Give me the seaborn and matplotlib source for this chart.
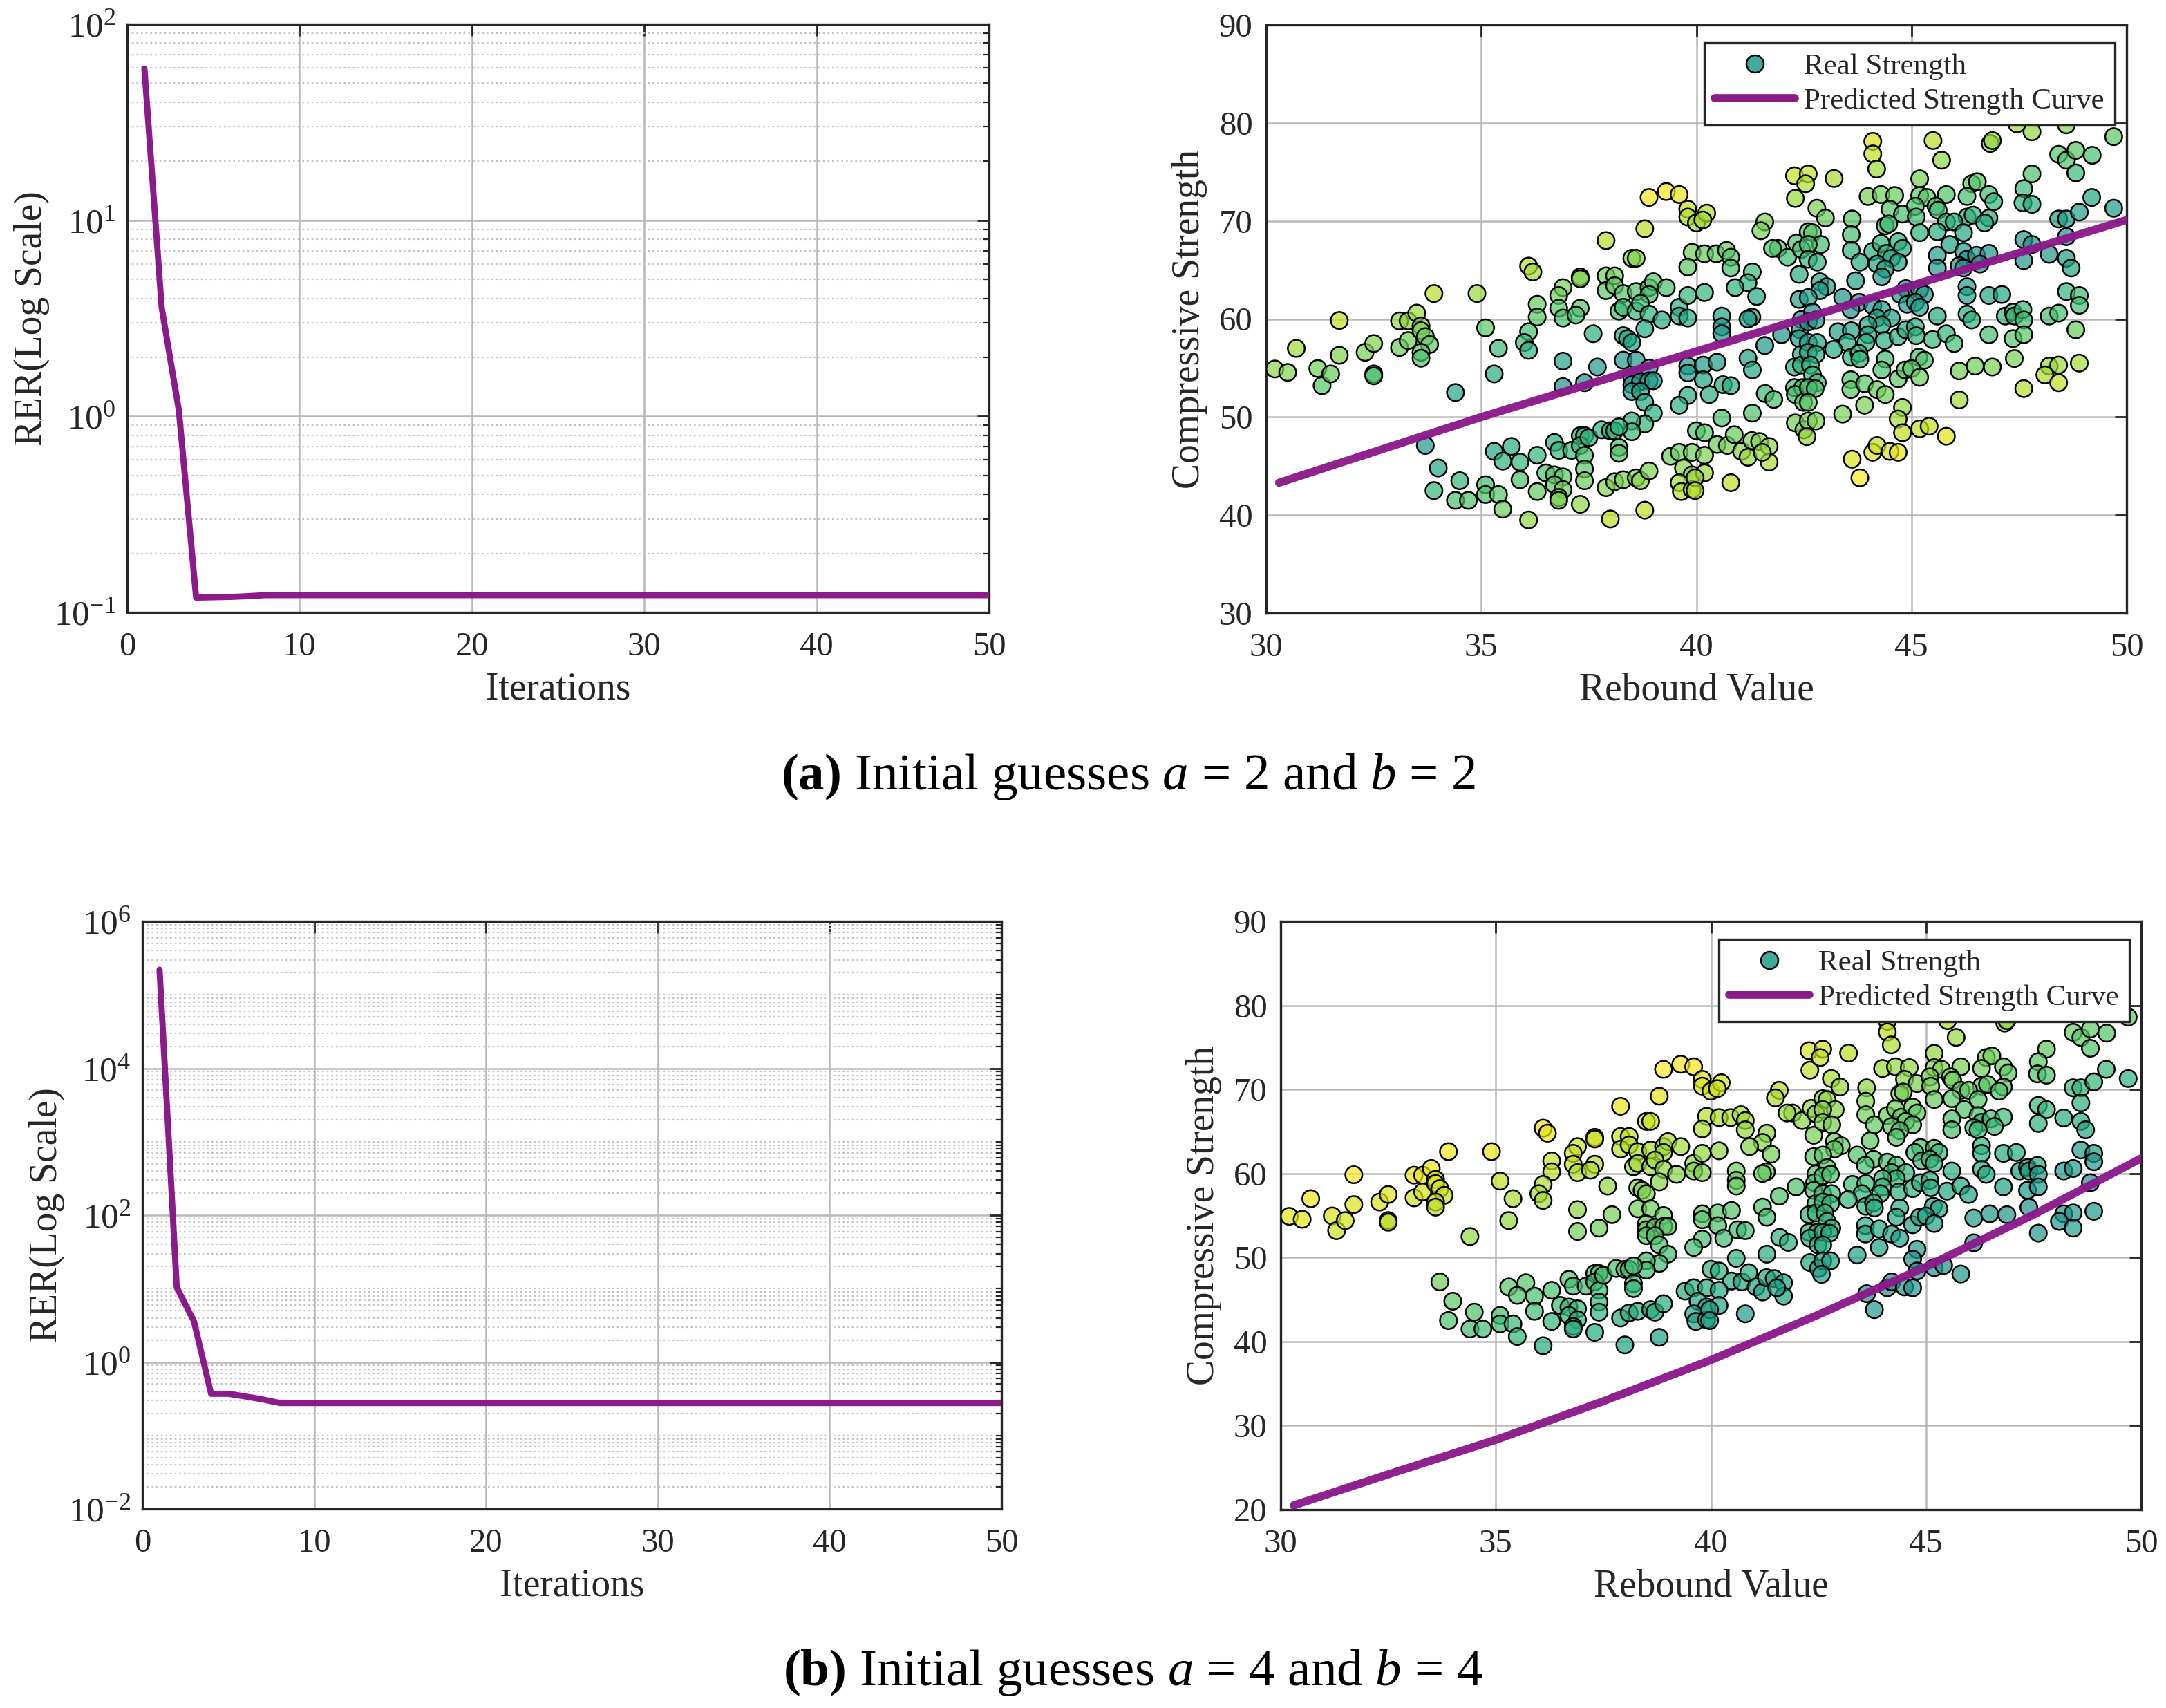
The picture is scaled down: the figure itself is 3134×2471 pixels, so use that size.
import numpy as np
import pandas as pd
import matplotlib
matplotlib.use("Agg")
import matplotlib.pyplot as plt
import seaborn as sns
from matplotlib.lines import Line2D
from matplotlib.colors import ListedColormap
from matplotlib.ticker import FixedLocator, FuncFormatter, NullFormatter, MultipleLocator

# ---------------- data ----------------
iterations = list(range(1, 51))
rer_a = [59.4, 3.6, 1.07, 0.119, 0.1195, 0.120, 0.121, 0.1225, 0.1225, 0.1225,
         0.1225, 0.1225, 0.1225, 0.1225, 0.1225, 0.1225, 0.1225, 0.1225, 0.1225, 0.1225,
         0.1225, 0.1225, 0.1225, 0.1225, 0.1225, 0.1225, 0.1225, 0.1225, 0.1225, 0.1225,
         0.1225, 0.1225, 0.1225, 0.1225, 0.1225, 0.1225, 0.1225, 0.1225, 0.1225, 0.1225,
         0.1225, 0.1225, 0.1225, 0.1225, 0.1225, 0.1225, 0.1225, 0.1225, 0.1225, 0.1225]
rer_b = [2.2e5, 10.4, 3.6, 0.37, 0.37, 0.34, 0.31, 0.277, 0.277, 0.277,
         0.277, 0.277, 0.277, 0.277, 0.277, 0.277, 0.277, 0.277, 0.277, 0.277,
         0.277, 0.277, 0.277, 0.277, 0.277, 0.277, 0.277, 0.277, 0.277, 0.277,
         0.277, 0.277, 0.277, 0.277, 0.277, 0.277, 0.277, 0.277, 0.277, 0.277,
         0.277, 0.277, 0.277, 0.277, 0.277, 0.277, 0.277, 0.277, 0.277, 0.277]

points = [
    # x 30-36
    (30.2,54.9),(30.5,54.55),(30.7,57.0),(31.2,54.95),(31.3,53.2),(31.5,54.4),(31.7,59.85),(31.7,56.3),
    (32.3,56.6),(32.5,57.5),(32.5,54.4),(32.5,54.2),(33.1,59.8),(33.3,59.8),(33.5,60.6),(33.6,59.3),
    (33.1,57.1),(33.3,57.8),(33.6,58.8),(33.7,58.2),(33.8,57.4),(33.6,56.6),(33.6,56.0),(33.9,62.6),
    (34.9,62.6),(35.1,59.1),(35.4,57.0),(35.3,54.4),(34.4,52.5),
    (33.7,47.1),(34.0,44.8),(34.5,43.5),(33.9,42.5),(34.4,41.5),(34.7,41.5),(35.1,43.1),(35.1,42.1),
    (35.4,42.1),(35.5,40.6),(35.3,46.5),(35.7,47.0),(35.5,45.5),(35.9,45.4),(35.9,43.6),(36.1,39.5),
    # x 36-40
    (38.9,72.4),(39.3,73.0),(39.6,72.7),(39.8,71.2),(39.8,70.4),(40.0,69.8),(38.8,69.2),(37.9,68.0),
    (38.5,66.2),(38.6,66.2),(39.9,66.8),(39.8,65.3),(36.1,65.4),(36.2,64.8),(36.9,63.2),(36.8,62.4),
    (37.3,64.3),(37.3,64.1),(37.9,64.4),(38.1,64.4),(37.9,62.9),(38.1,63.4),(38.3,62.6),(38.6,62.8),
    (38.9,63.2),(39.0,63.8),(38.9,62.5),(39.3,63.2),(36.3,61.5),(36.3,60.2),(36.8,61.1),(36.9,60.1),
    (37.3,61.1),(37.2,60.4),(38.2,60.8),(38.3,61.2),(38.6,60.8),(38.7,61.6),(38.9,60.5),(39.2,59.9),
    (38.8,59.0),(39.6,61.2),(39.6,60.3),(39.8,62.4),(39.8,60.1),(36.1,58.7),(36.0,57.6),(36.1,56.8),
    (37.6,58.5),(38.3,58.3),(38.4,58.0),(38.5,57.6),(36.9,55.7),(37.7,55.1),(38.3,55.8),(38.6,55.8),
    (38.9,55.0),(36.9,53.1),(37.4,53.5),(38.5,54.0),(38.5,53.3),(38.7,53.6),(38.9,53.7),(39.0,53.7),
    (38.5,52.6),(38.7,52.6),(38.8,51.5),(39.0,50.4),(38.8,49.3),(38.5,49.6),(38.5,48.5),(39.8,55.2),
    (39.8,54.5),(39.8,52.2),(39.6,51.2),(40.0,48.6),
    (36.3,46.1),(36.7,47.4),(36.8,46.6),(37.1,46.6),(37.3,48.1),(37.4,48.1),(37.3,47.1),(37.4,46.1),
    (37.4,44.7),(37.4,43.5),(37.5,47.9),(37.8,48.7),(38.0,48.6),(38.1,48.6),(38.2,49.0),(38.2,46.9),
    (38.2,46.3),(36.5,44.3),(36.7,44.1),(36.9,43.9),(36.7,43.1),(36.9,42.6),(36.8,41.8),(36.8,41.5),
    (36.3,42.4),(37.3,41.1),(37.9,42.8),(38.1,43.4),(38.3,43.6),(38.6,43.8),(38.7,43.5),(38.9,44.5),
    (38.0,39.6),(38.8,40.5),(39.4,46.0),(39.6,46.4),(39.9,46.4),(39.7,44.8),(39.9,44.1),(39.6,43.3),
    (39.65,42.4),(39.9,42.6),
    # x 40-42.5
    (42.28,74.61),(42.30,72.3),(40.24,70.8),(40.15,70.1),(41.59,69.9),(41.5,69.0),(41.9,67.2),(41.77,67.2),
    (42.12,66.3),(42.33,67.75),(42.44,67.1),(42.39,64.55),(40.19,66.65),(40.46,66.65),(40.7,67.0),(40.8,66.3),
    (40.8,65.2),(41.3,64.8),(41.2,63.7),(40.9,63.2),(41.4,62.3),(40.19,62.7),(40.59,60.3),(40.59,59.2),
    (40.59,58.5),(41.29,60.2),(41.2,60.0),(41.98,58.4),(41.59,57.3),(42.39,62.0),(42.44,59.95),(42.41,58.9),
    (42.39,58.0),(42.44,56.4),(42.28,55.1),(42.44,55.3),(42.28,53.0),(42.47,53.0),(42.3,52.3),(42.49,51.5),
    (42.3,49.4),(42.5,48.7),(40.16,55.3),(40.16,53.8),(40.3,52.3),(40.48,55.6),(40.62,53.3),(40.8,53.2),
    (41.2,56.0),(41.3,54.8),(41.6,52.4),(41.8,51.8),(40.59,49.9),(41.3,50.4),(40.19,48.4),(40.48,47.2),
    (40.72,47.1),(40.88,48.2),(41.05,46.5),(41.2,45.9),(41.29,47.6),(41.47,47.5),(41.69,47.0),(41.69,45.4),
    (41.53,46.4),(40.19,46.1),(40.19,44.3),(39.97,43.8),(39.97,42.5),(40.8,43.3),
    # x 42.5-45
    (44.10,78.12),(44.10,76.84),(44.19,75.3),(42.60,74.8),(42.54,73.8),(43.20,74.33),(42.80,71.3),(43.0,70.3),
    (43.99,72.5),(44.29,72.7),(44.61,72.6),(44.5,71.2),(44.79,70.7),(43.62,70.2),(43.6,68.6),(43.6,67.0),
    (43.8,65.8),(44.39,69.5),(44.47,69.7),(42.6,68.9),(42.7,68.8),(42.89,67.6),(42.6,67.6),(42.6,66.1),
    (42.81,65.8),(44.1,66.9),(44.29,67.7),(44.42,66.7),(44.69,67.9),(44.79,67.2),(44.53,66.2),(44.69,65.8),
    (44.2,65.6),(44.39,65.1),(44.31,64.3),(42.87,63.8),(43.03,63.3),(42.87,62.9),(43.7,63.9),(42.6,62.2),
    (43.4,62.2),(43.78,61.7),(43.59,60.97),(44.1,61.35),(44.31,60.97),(44.87,63.1),(44.74,62.5),(44.9,61.5),
    (42.7,60.7),(42.6,59.7),(42.78,59.9),(44.2,60.1),(44.53,60.1),(44.31,59.4),(43.99,59.4),(43.29,58.7),
    (43.6,58.8),(43.51,57.6),(43.19,56.9),(43.99,58.4),(43.94,57.6),(44.37,57.8),(44.69,58.2),(44.87,58.9),
    (42.6,57.6),(42.81,57.6),(42.6,56.6),(42.78,56.4),(42.65,55.3),(42.7,54.3),(42.81,53.5),(42.6,53.0),
    (42.76,52.9),(42.6,51.5),(43.6,56.1),(43.78,56.5),(43.8,55.9),(44.39,55.9),(44.31,54.8),(44.69,53.9),
    (44.85,54.8),(43.59,53.8),(43.59,52.8),(43.91,53.4),(44.2,52.8),(44.39,52.3),(43.91,51.2),(44.79,50.98),
    (44.69,49.8),(44.79,48.4),(43.4,50.3),(42.6,49.6),(42.78,49.6),(42.57,48.0),(44.1,46.4),(44.2,47.1),
    (44.5,46.5),(44.69,46.4),(43.62,45.7),(43.8,43.8),
    # x 45-47.5
    (47.45,79.9),(45.5,78.2),(46.83,77.9),(46.88,78.2),(45.7,76.2),(45.19,74.3),(45.19,72.6),(45.36,72.4),
    (45.81,72.7),(45.09,71.5),(45.57,71.5),(45.62,71.1),(45.11,70.4),(46.4,73.8),(46.53,74.0),(46.29,72.5),
    (46.8,72.7),(46.91,71.97),(46.29,70.4),(46.43,70.6),(46.8,70.3),(46.7,69.8),(45.81,69.9),(45.99,69.9),
    (45.19,68.8),(45.6,68.9),(46.21,68.8),(45.89,67.6),(45.6,66.5),(45.6,65.2),(46.21,66.9),(46.29,66.1),
    (46.51,66.5),(46.8,66.7),(46.59,65.6),(46.11,65.45),(46.21,65.2),(45.19,63.0),(45.3,62.5),(45.09,61.7),
    (45.19,61.2),(46.29,63.3),(46.29,62.4),(46.8,62.4),(47.1,62.5),(45.6,60.3),(46.29,60.5),(46.4,59.9),
    (47.18,60.3),(47.36,60.7),(47.39,60.3),(45.09,59.2),(45.11,58.3),(45.49,57.9),(45.81,58.5),(45.99,57.5),
    (46.8,58.4),(47.36,58.0),(45.17,56.1),(45.3,55.8),(45.0,54.95),(45.19,54.05),(46.11,54.7),(46.48,55.2),
    (46.88,55.1),(47.39,55.97),(46.11,51.75),(45.19,48.8),(45.41,49.06),(45.81,48.04),
    # x 47.5-50
    (47.8,79.1),(48.6,79.8),(49.7,78.6),(48.42,76.8),(48.6,76.2),(48.82,77.2),(49.2,76.7),(48.82,74.9),
    (47.8,74.8),(47.61,73.3),(47.59,71.85),(47.8,71.7),(49.19,72.4),(49.7,71.3),(48.42,70.2),(48.6,70.2),
    (48.9,70.9),(47.61,68.1),(47.8,67.6),(47.61,65.96),(48.6,68.4),(48.2,66.6),(48.6,66.2),(48.71,65.2),
    (48.6,62.8),(48.9,62.4),(48.9,61.4),(48.2,60.3),(48.42,60.6),(47.59,60.96),(47.61,59.9),(47.61,58.4),
    (48.82,58.9),(48.2,55.2),(48.42,55.3),(48.1,54.3),(48.42,53.5),(48.9,55.5),(47.61,52.9),
]
rebound = np.array([p[0] for p in points])
strength = np.array([p[1] for p in points])

# predicted strength curves
curve_x_a = [30.3, 35.0, 40.0, 45.0, 50.0]
curve_y_a = [43.3, 50.0, 56.7, 63.4, 70.1]
curve_x_b = [30.3, 32.5, 35.0, 37.5, 40.0, 42.5, 45.0, 47.5, 50.0]
curve_y_b = [20.5, 24.2, 28.3, 32.9, 37.8, 43.2, 48.9, 55.1, 61.8]

caption_a = r"$\mathbf{(a)}$ Initial guesses $a$ = 2 and $b$ = 2"
caption_b = r"$\mathbf{(b)}$ Initial guesses $a$ = 4 and $b$ = 4"

# ---------------- style ----------------
sns.set_theme(style="white")
plt.rcParams["font.family"] = ["Liberation Serif", "DejaVu Serif"]
plt.rcParams["mathtext.fontset"] = "custom"
plt.rcParams["mathtext.rm"] = "Liberation Serif"
plt.rcParams["mathtext.it"] = "Liberation Serif:italic"
plt.rcParams["mathtext.bf"] = "Liberation Serif:bold"
plt.rcParams["axes.unicode_minus"] = True

PURPLE = "#8B1A8B"
TXT = "#262626"
cmap = ListedColormap(plt.get_cmap("viridis")(np.linspace(0.5, 1.0, 256)))
TEAL = plt.get_cmap("viridis")(0.55)

W, H = 3134, 2471
fig = plt.figure(figsize=(W / 200, H / 200), dpi=200)

def rect(l, t, r, b):
    return [l / W, 1 - b / H, (r - l) / W, (b - t) / H]

ax_tl = fig.add_axes(rect(184, 35, 1431, 886))
ax_tr = fig.add_axes(rect(1832, 36, 3077, 887))
ax_bl = fig.add_axes(rect(206, 1333, 1449, 2183))
ax_br = fig.add_axes(rect(1853, 1333, 3098, 2184))

def common(ax):
    for s in ax.spines.values():
        s.set_color(TXT)
        s.set_linewidth(1.2)
    ax.tick_params(axis="both", which="both", direction="in", top=True, right=True,
                   colors=TXT, labelsize=17.5)
    ax.tick_params(axis="x", pad=10)
    ax.tick_params(axis="y", pad=7)
    ax.tick_params(which="major", length=6, width=1.0)
    ax.tick_params(which="minor", length=3, width=0.8)

def log_panel(ax, rer, ylim, majors):
    sns.lineplot(x=iterations, y=rer, ax=ax, color=PURPLE, lw=3.2, zorder=3)
    ax.set_yscale("log")
    ax.set_xlim(0, 50)
    ax.set_ylim(*ylim)
    ax.xaxis.set_major_locator(MultipleLocator(10))
    ax.yaxis.set_major_locator(FixedLocator(majors))
    lo, hi = int(np.log10(ylim[0])), int(np.log10(ylim[1]))
    minors = []
    for e in range(lo, hi):
        for k in range(1, 10):
            v = k * 10.0 ** e
            if not any(np.isclose(v, m) for m in majors):
                minors.append(v)
    ax.yaxis.set_minor_locator(FixedLocator(minors))
    ax.yaxis.set_minor_formatter(NullFormatter())
    ax.yaxis.set_major_formatter(FuncFormatter(
        lambda v, p: r"$10^{%d}$" % int(round(np.log10(v)))))
    ax.grid(True, which="major", color="#b8b8b8", lw=0.9, ls="-")
    ax.grid(True, which="minor", axis="y", color="#c4c4c4", lw=0.8, ls=(0, (1.2, 1.8)))
    ax.set_axisbelow(True)
    ax.set_xlabel("Iterations", fontsize=20, color=TXT, labelpad=5)
    ax.set_ylabel("RER(Log Scale)", fontsize=20, color=TXT, labelpad=2)
    common(ax)
    ax.tick_params(axis="y", labelsize=18.5, pad=6)

def scatter_panel(ax, cx, cy, ylim):
    pred = np.interp(rebound, cx, cy)
    dev = np.abs(strength - pred)
    df = pd.DataFrame({"Rebound Value": rebound, "Compressive Strength": strength, "dev": dev})
    sns.scatterplot(data=df, x="Rebound Value", y="Compressive Strength", hue="dev",
                    palette=cmap, hue_norm=(0, dev.max()), s=78, edgecolor="black",
                    linewidth=0.9, legend=False, ax=ax, zorder=3)
    coll = ax.collections[-1]
    fc = coll.get_facecolors()
    fc[:, 3] = 0.7
    coll.set_facecolors(fc)
    coll.set_edgecolors("black")
    sns.lineplot(x=cx, y=cy, ax=ax, color=PURPLE, lw=4.2, alpha=0.97, zorder=4)
    ax.set_xlim(30, 50)
    ax.set_ylim(*ylim)
    ax.xaxis.set_major_locator(MultipleLocator(5))
    ax.yaxis.set_major_locator(MultipleLocator(10))
    ax.grid(True, which="major", color="#b8b8b8", lw=0.9, ls="-")
    ax.set_axisbelow(True)
    ax.set_xlabel("Rebound Value", fontsize=20, color=TXT, labelpad=5)
    ax.set_ylabel("Compressive Strength", fontsize=20, color=TXT, labelpad=6)
    common(ax)
    handles = [Line2D([], [], ls="none", marker="o", markersize=9,
                      markerfacecolor=(TEAL[0], TEAL[1], TEAL[2], 0.85),
                      markeredgecolor="black", markeredgewidth=0.9),
               Line2D([], [], color=PURPLE, lw=4.2)]
    leg = ax.legend(handles, ["Real Strength", "Predicted Strength Curve"],
                    loc="upper right", bbox_to_anchor=(0.986, 0.97), fontsize=15.5,
                    frameon=True, fancybox=False, framealpha=1, edgecolor=TXT,
                    borderpad=0.35, handlelength=2.7, handletextpad=0.3,
                    labelspacing=0.25, borderaxespad=0)
    leg.get_frame().set_linewidth(1.2)
    leg.set_zorder(10)

log_panel(ax_tl, rer_a, (0.1, 100), [0.1, 1, 10, 100])
log_panel(ax_bl, rer_b, (1e-2, 1e6), [1e-2, 1, 1e2, 1e4, 1e6])
scatter_panel(ax_tr, curve_x_a, curve_y_a, (30, 90))
scatter_panel(ax_br, curve_x_b, curve_y_b, (20, 90))

fig.text(0.521, 1 - 1124 / H, caption_a, ha="center", va="center", fontsize=27, color="black")
fig.text(0.523, 1 - 2420 / H, caption_b, ha="center", va="center", fontsize=27, color="black")

fig.savefig("out.png", dpi=200, facecolor="white")
